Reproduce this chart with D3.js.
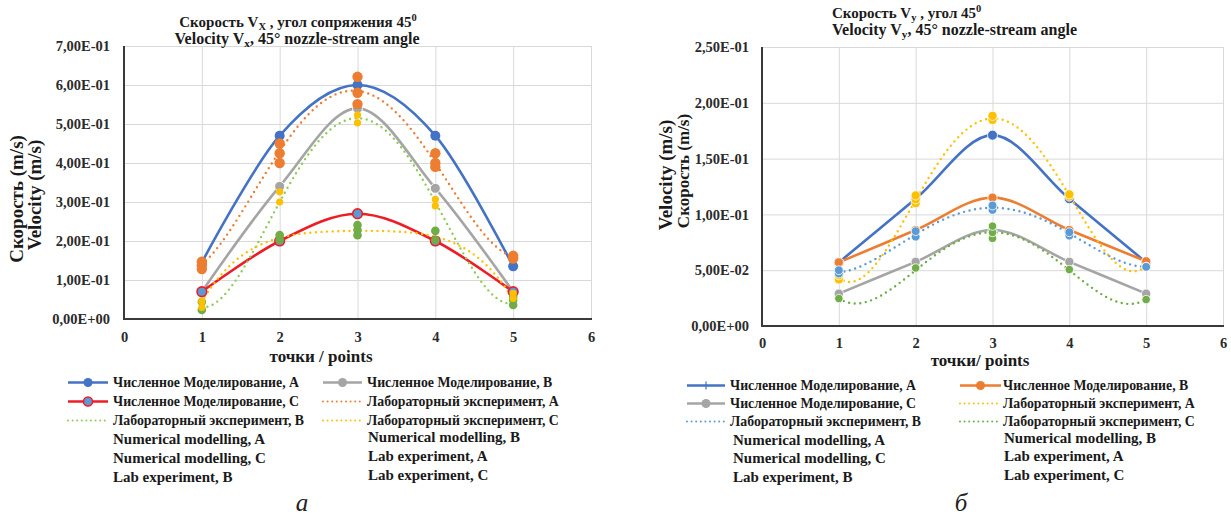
<!DOCTYPE html>
<html>
<head>
<meta charset="utf-8">
<title>Velocity Vx / Vy, 45° nozzle-stream angle</title>
<script src="https://cdn.jsdelivr.net/npm/d3@7"></script>
<style>
	body { margin: 0; padding: 0; background: #fff; }
	svg { display: block; font-family: "Liberation Serif", "Times New Roman", serif; }
	.grid line { stroke: #d9d9d9; stroke-width: 1; }
	.ticklabels text { font-weight: bold; fill: #2b2b2b; }
	.bold { font-weight: bold; fill: #1a1a1a; }
</style>
</head>
<body>
<svg id="chart" width="1231" height="520"></svg>
<script>
// ---- data ----
var xPoints = [1, 2, 3, 4, 5];
var xTickValues = [0, 1, 2, 3, 4, 5, 6];
var xTickLabels = ["0", "1", "2", "3", "4", "5", "6"];

var yTickValuesVx = [0, 0.1, 0.2, 0.3, 0.4, 0.5, 0.6, 0.7];
var yTickLabelsVx = ["0,00E+00", "1,00E-01", "2,00E-01", "3,00E-01", "4,00E-01", "5,00E-01", "6,00E-01", "7,00E-01"];
var yTickValuesVy = [0, 0.05, 0.1, 0.15, 0.2, 0.25];
var yTickLabelsVy = ["0,00E+00", "5,00E-02", "1,00E-01", "1,50E-01", "2,00E-01", "2,50E-01"];

// panel a: Vx
var vxNumA = [0.145, 0.47, 0.60, 0.47, 0.135];
var vxNumB = [0.07, 0.34, 0.54, 0.335, 0.07];
var vxNumC = [0.07, 0.20, 0.27, 0.20, 0.07];
var vxLabA = [[0.128, 0.138, 0.147], [0.40, 0.425, 0.45], [0.551, 0.58, 0.621], [0.39, 0.40, 0.425], [0.155, 0.162]];
var vxLabB = [[0.023, 0.044], [0.203, 0.215], [0.215, 0.228, 0.241], [0.2025, 0.226], [0.036, 0.049, 0.057]];
var vxLabC = [[0.03, 0.045], [0.30, 0.326], [0.503, 0.523], [0.29, 0.307], [0.053, 0.066]];
var vxTrendA = [0.14, 0.43, 0.585, 0.40, 0.16];
var vxTrendB = [0.03, 0.30, 0.515, 0.30, 0.04];
var vxTrendC = [0.045, 0.208, 0.226, 0.211, 0.05];

// panel b: Vy
var vyNumA = [0.057, 0.114, 0.171, 0.114, 0.057];
var vyNumB = [0.057, 0.086, 0.115, 0.086, 0.058];
var vyNumC = [0.029, 0.0575, 0.086, 0.0575, 0.029];
var vyLabA = [[0.0417, 0.0455], [0.11, 0.1135, 0.117], [0.1847, 0.1883], [0.116, 0.118], [0.053]];
var vyLabB = [[0.047, 0.050], [0.080, 0.085], [0.104, 0.108], [0.081, 0.084], [0.053]];
var vyLabC = [[0.0246], [0.052], [0.0785, 0.0838, 0.0895], [0.0506], [0.0237]];
var vyTrendA = [0.043, 0.113, 0.186, 0.117, 0.054];
var vyTrendB = [0.048, 0.082, 0.106, 0.083, 0.053];
var vyTrendC = [0.0246, 0.05, 0.084, 0.05, 0.024];

var legendRu = ["Численное Моделирование, A", "Численное Моделирование, B", "Численное Моделирование, C",
	"Лабораторный эксперимент, A", "Лабораторный эксперимент, B", "Лабораторный эксперимент, C"];
var legendEn = ["Numerical modelling, A", "Numerical modelling, B", "Numerical modelling, C",
	"Lab experiment, A", "Lab experiment, B", "Lab experiment, C"];

var svg = d3.select("#chart");

// polynomial trendline (Excel style) drawn as a d3 curve through the given points
function polyCurve(context) {
	var pts = [];
	return {
		areaStart: function () {}, areaEnd: function () {},
		lineStart: function () { pts = []; },
		point: function (x, y) { pts.push([+x, +y]); },
		lineEnd: function () {
			var n = pts.length, x0 = pts[0][0], x1 = pts[n - 1][0];
			for (var k = 0; k <= 120; k++) {
				var xx = x0 + (x1 - x0) * k / 120, yy = 0;
				for (var i = 0; i < n; i++) {
					var w = 1;
					for (var j = 0; j < n; j++) if (j !== i) w *= (xx - pts[j][0]) / (pts[i][0] - pts[j][0]);
					yy += w * pts[i][1];
				}
				if (k === 0) context.moveTo(xx, yy); else context.lineTo(xx, yy);
			}
		}
	};
}

// text with sub/superscript pieces
function richText(parent, x, y, size, anchor, parts) {
	var t = parent.append("text").attr("class", "bold").attr("x", x).attr("y", y)
		.attr("text-anchor", anchor).style("font-size", size + "px");
	var shift = 0;
	parts.forEach(function (p) {
		var want = p.sub ? 3 : (p.sup ? -6 : 0);
		t.append("tspan").attr("dy", want - shift)
			.style("font-size", (p.sub || p.sup) ? (size * 0.7) + "px" : null)
			.text(p.t);
		shift = want;
	});
	return t;
}

function drawPanel(p) {
	var x = d3.scaleLinear().domain([0, 6]).range(p.xRange);
	var y = d3.scaleLinear().domain([0, p.yMax]).range(p.yRange);
	var g = svg.append("g");
	var plotH = p.yRange[0] - p.yRange[1], plotW = p.xRange[1] - p.xRange[0];

	// gridlines
	g.append("g").attr("class", "grid").attr("transform", "translate(0," + p.yRange[0] + ")")
		.call(d3.axisBottom(x).tickValues(xTickValues).tickSize(-plotH).tickFormat(""))
		.call(function (s) { s.select(".domain").remove(); });
	g.append("g").attr("class", "grid").attr("transform", "translate(" + p.xRange[0] + ",0)")
		.call(d3.axisLeft(y).tickValues(p.yTicks).tickSize(-plotW).tickFormat(""))
		.call(function (s) { s.select(".domain").remove(); });

	// tick labels
	g.append("g").attr("class", "ticklabels").attr("transform", "translate(" + p.xRange[0] + ",0)")
		.call(d3.axisLeft(y).tickValues(p.yTicks).tickSize(0).tickPadding(p.yPad)
			.tickFormat(function (d, i) { return p.yLabels[i]; }))
		.call(function (s) { s.select(".domain").remove(); })
		.selectAll("text").style("font-size", "14.5px");
	g.append("g").attr("class", "ticklabels").attr("transform", "translate(0," + p.yRange[0] + ")")
		.call(d3.axisBottom(x).tickValues(xTickValues).tickSize(0).tickPadding(p.xPad)
			.tickFormat(function (d, i) { return xTickLabels[i]; }))
		.call(function (s) { s.select(".domain").remove(); })
		.selectAll("text").style("font-size", "14.5px");
	g.selectAll(".ticklabels").attr("font-family", null);

	// axis lines
	g.append("line").attr("x1", p.xRange[0]).attr("x2", p.xRange[0]).attr("y1", p.yRange[1]).attr("y2", p.yRange[0])
		.attr("stroke", "#3a3a3a").attr("stroke-width", 2);
	g.append("line").attr("x1", p.xRange[0] - 1).attr("x2", p.xRange[1] + 1).attr("y1", p.yRange[0]).attr("y2", p.yRange[0])
		.attr("stroke", "#3a3a3a").attr("stroke-width", 2.2);

	var smooth = d3.line().x(function (d, i) { return x(xPoints[i]); }).y(function (d) { return y(d); })
		.curve(d3.curveCardinal.tension(0));
	var trend = d3.line().x(function (d, i) { return x(xPoints[i]); }).y(function (d) { return y(d); })
		.curve(polyCurve);

	// numerical lines
	p.num.forEach(function (s) {
		g.append("path").attr("d", smooth(s.values)).attr("fill", "none")
			.attr("stroke", s.color).attr("stroke-width", 2.6);
	});
	// trendlines
	p.trends.forEach(function (s) {
		g.append("path").attr("d", trend(s.values)).attr("fill", "none")
			.attr("stroke", s.color).attr("stroke-width", 2.4)
			.attr("stroke-linecap", "round").attr("stroke-dasharray", "0,5.6");
	});
	// numerical markers
	p.num.forEach(function (s) {
		g.append("g").selectAll("circle").data(s.values).join("circle")
			.attr("cx", function (d, i) { return x(xPoints[i]); })
			.attr("cy", function (d) { return y(d); })
			.attr("r", s.r)
			.attr("fill", s.fill)
			.attr("stroke", s.stroke)
			.attr("stroke-width", s.sw);
	});
	// lab points
	p.lab.forEach(function (s) {
		var pts = s.values.flatMap(function (arr, i) { return arr.map(function (v) { return { x: xPoints[i], v: v }; }); });
		g.append("g").selectAll("circle").data(pts).join("circle")
			.attr("cx", function (d) { return x(d.x); })
			.attr("cy", function (d) { return y(d.v); })
			.attr("r", s.r)
			.attr("fill", s.color)
			.attr("stroke", p.halo ? "rgba(255,255,255,0.8)" : "none")
			.attr("stroke-width", 1);
	});

	// axis titles
	p.yTitles.forEach(function (t) {
		g.append("text").attr("class", "bold").attr("transform", "translate(" + t.x + "," + t.y + ") rotate(-90)")
			.attr("text-anchor", "middle").style("font-size", t.size + "px").text(t.text);
	});
	g.append("text").attr("class", "bold").attr("x", p.xTitle.x).attr("y", p.xTitle.y)
		.attr("text-anchor", "middle").style("font-size", "17px").text(p.xTitle.text);

	// titles
	p.titles.forEach(function (t) { richText(g, t.x, t.y, t.size, t.anchor, t.parts); });

	// legend
	var items = [];
	legendRu.forEach(function (l, i) { items.push({ text: l, sym: p.legendSym[i], en: false }); });
	legendEn.forEach(function (l) { items.push({ text: l, sym: null, en: true }); });
	items.forEach(function (it, i) {
		var col = i % 2, row = Math.floor(i / 2);
		var by = p.legend.rows[row] - (it.en && col === 1 ? 2 : 0);
		var lx = p.legend.lineX[col], tx = it.en ? p.legend.enX[col] : p.legend.textX[col];
		if (it.sym) {
			var s = it.sym, ly = by - 4.5;
			g.append("line").attr("x1", lx[0]).attr("x2", lx[1]).attr("y1", ly).attr("y2", ly)
				.attr("stroke", s.color).attr("stroke-width", s.dotted ? 2 : 2.6)
				.attr("stroke-linecap", s.dotted ? "round" : "butt")
				.attr("stroke-dasharray", s.dotted ? "0,4.6" : null);
			if (s.marker === "circle") {
				g.append("circle").attr("cx", (lx[0] + lx[1]) / 2).attr("cy", ly).attr("r", 4.5)
					.attr("fill", s.fill).attr("stroke", s.stroke || "none").attr("stroke-width", 1.5);
			} else if (s.marker === "plus") {
				g.append("line").attr("x1", (lx[0] + lx[1]) / 2).attr("x2", (lx[0] + lx[1]) / 2)
					.attr("y1", ly - 4).attr("y2", ly + 4).attr("stroke", s.color).attr("stroke-width", 1.2);
			}
		}
		g.append("text").attr("class", "bold").attr("x", tx).attr("y", by)
			.style("font-size", it.en ? "15px" : "13.8px").text(it.text);
	});

	g.append("text").attr("x", p.tag.x).attr("y", p.tag.y).attr("text-anchor", "middle")
		.style("font-size", "25px").style("font-style", "italic").attr("fill", "#222").text(p.tag.text);
}

var blue = "#4472C4", orange = "#ED7D31", gray = "#A5A5A5", yellow = "#FFC000",
	lblue = "#5B9BD5", green = "#70AD47", lgreen = "#8FCB55", red = "#EE1C25";

drawPanel({
	xRange: [124, 591], yRange: [319, 46], yMax: 0.7,
	yTicks: yTickValuesVx, yLabels: yTickLabelsVx, yPad: 14, xPad: 13,
	halo: false,
	num: [
		{ values: vxNumA, color: blue, fill: blue, stroke: "none", sw: 0, r: 5 },
		{ values: vxNumB, color: gray, fill: gray, stroke: "#fff", sw: 1, r: 5 },
		{ values: vxNumC, color: red, fill: lblue, stroke: red, sw: 1.6, r: 4.8 }
	],
	trends: [
		{ values: vxTrendA, color: orange },
		{ values: vxTrendB, color: lgreen },
		{ values: vxTrendC, color: yellow }
	],
	lab: [
		{ values: vxLabA, color: orange, r: 5.2 },
		{ values: vxLabB, color: green, r: 4.3 },
		{ values: vxLabC, color: yellow, r: 3.6 }
	],
	yTitles: [
		{ text: "Скорость (m/s)", x: 23, y: 199, size: 19 },
		{ text: "Velocity (m/s)", x: 41, y: 195, size: 19 }
	],
	xTitle: { text: "точки / points", x: 321, y: 362 },
	titles: [
		{ x: 298, y: 27, size: 15, anchor: "middle",
			parts: [{ t: "Скорость V" }, { t: "X", sub: true }, { t: " , угол сопряжения 45" }, { t: "0", sup: true }] },
		{ x: 297, y: 44, size: 16, anchor: "middle",
			parts: [{ t: "Velocity V" }, { t: "x", sub: true }, { t: ", 45° nozzle-stream angle" }] }
	],
	legendSym: [
		{ color: blue, marker: "circle", fill: blue },
		{ color: gray, marker: "circle", fill: gray },
		{ color: red, marker: "circle", fill: lblue, stroke: red },
		{ color: orange, dotted: true },
		{ color: lgreen, dotted: true },
		{ color: yellow, dotted: true }
	],
	legend: { rows: [387, 406, 425, 444, 463, 482], lineX: [[68, 108], [323, 362]], textX: [113, 367], enX: [113, 368] },
	tag: { text: "а", x: 302, y: 511 }
});

drawPanel({
	xRange: [762, 1223], yRange: [326, 47], yMax: 0.25,
	yTicks: yTickValuesVy, yLabels: yTickLabelsVy, yPad: 13, xPad: 12,
	halo: true,
	num: [
		{ values: vyNumA, color: blue, fill: blue, stroke: "rgba(255,255,255,0.8)", sw: 1, r: 5 },
		{ values: vyNumB, color: orange, fill: orange, stroke: "rgba(255,255,255,0.8)", sw: 1, r: 4.6 },
		{ values: vyNumC, color: gray, fill: gray, stroke: "rgba(255,255,255,0.8)", sw: 1, r: 4.6 }
	],
	trends: [
		{ values: vyTrendA, color: yellow },
		{ values: vyTrendB, color: lblue },
		{ values: vyTrendC, color: green }
	],
	lab: [
		{ values: vyLabA, color: yellow, r: 4.6 },
		{ values: vyLabB, color: lblue, r: 4.4 },
		{ values: vyLabC, color: green, r: 4.2 }
	],
	yTitles: [
		{ text: "Velocity (m/s)", x: 672, y: 175, size: 19 },
		{ text: "Скорость (m/s)", x: 689, y: 171, size: 17 }
	],
	xTitle: { text: "точки/ points", x: 980, y: 366 },
	titles: [
		{ x: 832, y: 18, size: 15, anchor: "start",
			parts: [{ t: "Скорость V" }, { t: "y", sub: true }, { t: " , угол 45" }, { t: "0", sup: true }] },
		{ x: 832, y: 35, size: 16, anchor: "start",
			parts: [{ t: "Velocity V" }, { t: "y", sub: true }, { t: ", 45° nozzle-stream angle" }] }
	],
	legendSym: [
		{ color: blue, marker: "plus" },
		{ color: orange, marker: "circle", fill: orange },
		{ color: gray, marker: "circle", fill: gray },
		{ color: yellow, dotted: true },
		{ color: lblue, dotted: true },
		{ color: green, dotted: true }
	],
	legend: { rows: [390, 408, 426, 445, 463, 482], lineX: [[687, 725], [960, 1001]], textX: [730, 1003], enX: [733, 1004] },
	tag: { text: "б", x: 961, y: 511 }
});
</script>
</body>
</html>
